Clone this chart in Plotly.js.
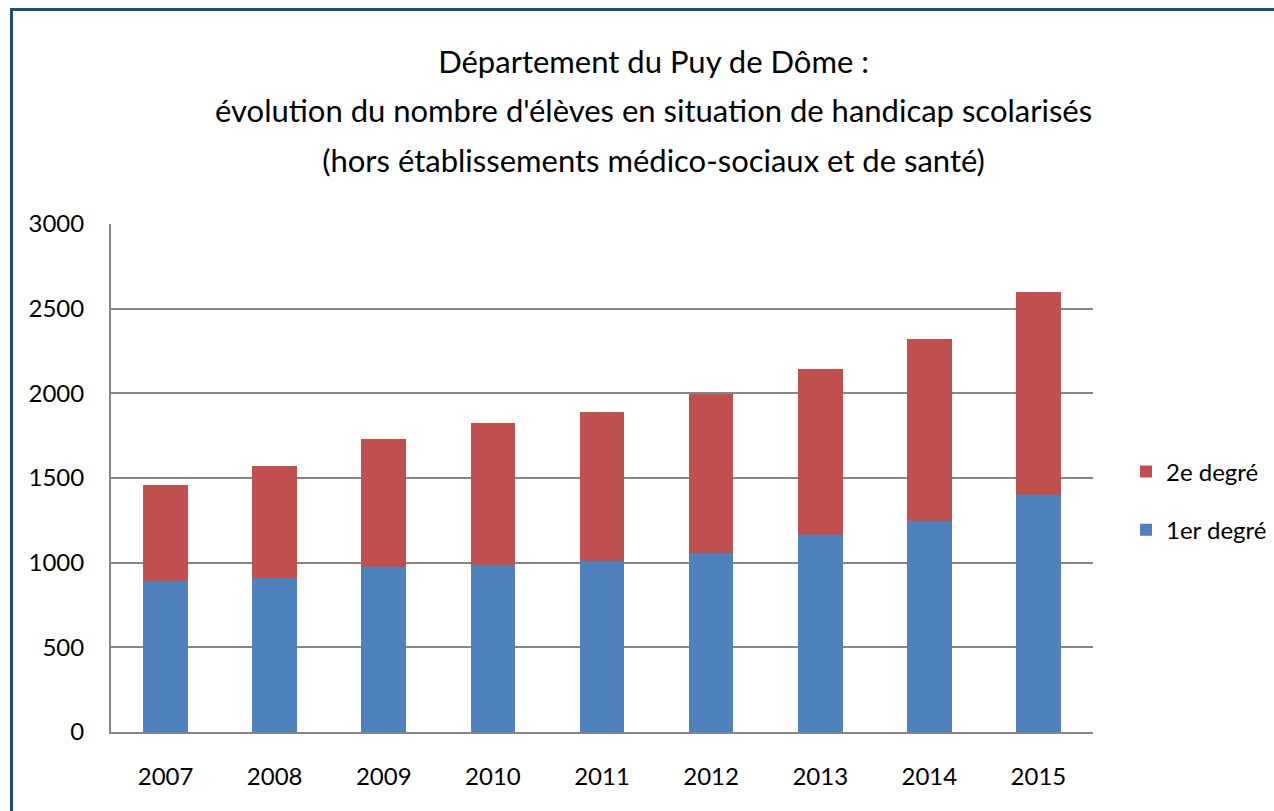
<!DOCTYPE html>
<html>
<head>
<meta charset="utf-8">
<script src="https://cdn.plot.ly/plotly-3.0.1.min.js"></script>
<style>
  html, body { margin: 0; padding: 0; background: #ffffff; }
  #wrap { position: relative; width: 1274px; height: 811px; overflow: hidden; }
  #chart { width: 1274px; height: 811px; position: relative; }
  #frame { position: absolute; left: 10px; top: 8px; width: 1400px; height: 900px;
           border-left: 3px solid #1F4E79; border-top: 3px solid #1F4E79; pointer-events: none; }
</style>
</head>
<body>
<div id="wrap">
  <div id="chart"></div>
  <div id="frame"></div>
</div>
<script>
const years = ['2007', '2008', '2009', '2010', '2011', '2012', '2013', '2014', '2015'];
const premierDegre = [892, 912, 975, 986, 1010, 1057, 1163, 1245, 1398];
const secondDegre  = [565, 657, 755, 836, 878, 938, 982, 1077, 1200];
const yTicks = [0, 500, 1000, 1500, 2000, 2500, 3000];

const titleLines = [
  'Département du Puy de Dôme :',
  'évolution du nombre d\'élèves en situation de handicap scolarisés',
  '(hors établissements médico-sociaux et de santé)'
];

const traces = [
  {
    type: 'bar', name: '1er degré', x: years, y: premierDegre,
    marker: { color: '#4F81BD' }, legendgroup: 'g1', legendrank: 2
  },
  {
    type: 'bar', name: '2e degré', x: years, y: secondDegre,
    marker: { color: '#C0504D' }, legendgroup: 'g2', legendrank: 1
  }
];

// plot area: x 111..1093, y 224..732
const plotW = 1274 - 111;
const layout = {
  width: 1274, height: 811,
  paper_bgcolor: '#ffffff', plot_bgcolor: '#ffffff',
  margin: { l: 111, r: 0, t: 224, b: 79, pad: 0 },
  barmode: 'stack',
  bargap: 0.59,
  showlegend: true,
  title: {
    text: titleLines.map(s => '<span style="font-size:31px">' + s + '</span>').join('<br>'),
    font: { family: 'Lato, sans-serif', size: 38, color: '#000000' },
    x: 0.513, xanchor: 'center', xref: 'container',
    y: 0.910, yanchor: 'top', yref: 'container'
  },
  xaxis: {
    type: 'category',
    domain: [0, 982 / plotW],
    showgrid: false, showline: true, linecolor: '#868686', linewidth: 2,
    ticks: '', ticklabelstandoff: 22,
    tickfont: { family: 'Lato, sans-serif', size: 24, color: '#000000' },
    fixedrange: true
  },
  yaxis: {
    range: [0, 3000], tickvals: yTicks, ticktext: yTicks.map(String),
    showgrid: true, gridcolor: '#868686', gridwidth: 2,
    showline: true, linecolor: '#868686', linewidth: 2,
    zeroline: false, ticks: '', ticklabelstandoff: 20,
    tickfont: { family: 'Lato, sans-serif', size: 24, color: '#000000' },
    fixedrange: true
  },
  legend: {
    x: (1126 - 111) / plotW, xanchor: 'left', y: 0.455, yanchor: 'middle',
    traceorder: 'grouped', tracegroupgap: 24,
    font: { family: 'Lato, sans-serif', size: 24, color: '#000000' },
    bgcolor: 'rgba(0,0,0,0)'
  }
};

Plotly.newPlot('chart', traces, layout, { displayModeBar: false });
</script>
</body>
</html>
